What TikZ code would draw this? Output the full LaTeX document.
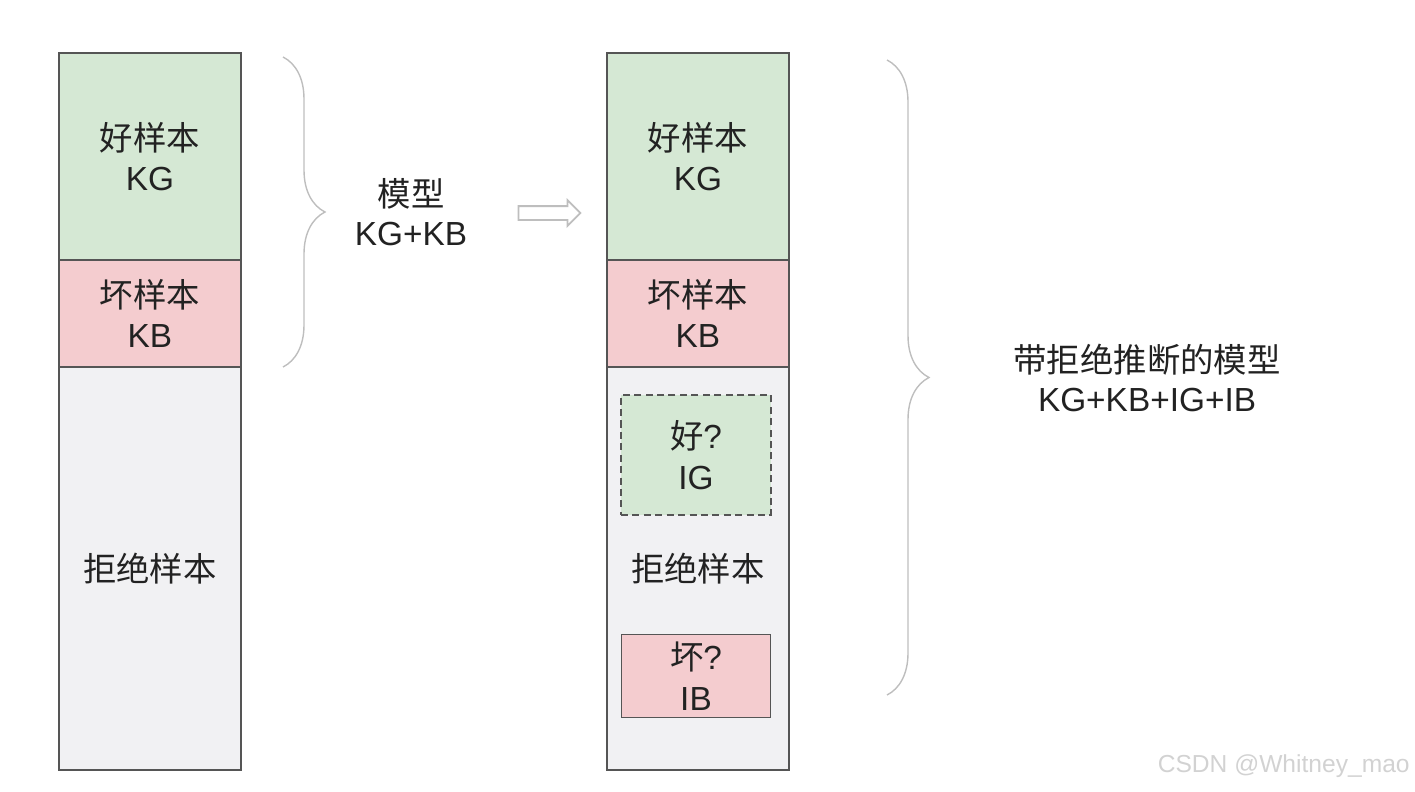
\documentclass[tikz,border=0pt]{standalone}
\usepackage{fontspec}
\setmainfont{Liberation Sans}
\newfontfamily\cjk{Noto Sans CJK SC}
\usetikzlibrary{positioning,decorations.pathreplacing,shapes.arrows}
\definecolor{green100}{HTML}{D5E8D4}
\definecolor{red100}  {HTML}{F4CCCF}
\definecolor{grey050} {HTML}{F1F1F3}
\definecolor{grey700} {HTML}{555555}
\definecolor{grey300} {HTML}{BEBEBE}
\definecolor{grey200} {HTML}{D2D2D2}
\definecolor{ink}     {HTML}{222222}
\tikzset{
  seg/.style   ={draw=grey700, line width=1pt, minimum width=3.64cm,
                 inner sep=0pt, outer sep=0pt, align=center, text=ink,
                 font=\fontsize{19}{23}\selectfont},
  good/.style  ={seg, fill=green100},
  bad/.style   ={seg, fill=red100},
  rej/.style   ={seg, fill=grey050},
  inbox/.style ={draw=grey700, line width=1pt, inner sep=0pt,
                 align=center, text=ink,
                 font=\fontsize{19}{23}\selectfont},
  lbl/.style   ={align=center, text=ink, inner sep=0pt,
                 font=\fontsize{19}{22.5}\selectfont},
  brc/.style   ={draw=grey300, line width=0.8pt,
                 decorate, decoration={brace, amplitude=0.84cm}}
}

\begin{document}
\begin{tikzpicture}[x=0.02cm, y=-0.02cm]
\useasboundingbox (0,0) rectangle (1415,791);

% left column
\node[good, minimum height=4.14cm, anchor=north west] (kg) at (59,53)
  {{\cjk 好样本}\\KG};
\node[bad, minimum height=2.14cm, below=0pt of kg] (kb)
  {{\cjk 坏样本}\\KB};
\node[rej, minimum height=8.06cm, below=0pt of kb] (rj) {\cjk 拒绝样本};

% right column
\node[good, minimum height=4.14cm, anchor=north west] (kg2) at (607,53)
  {{\cjk 好样本}\\KG};
\node[bad, minimum height=2.14cm, below=0pt of kg2] (kb2)
  {{\cjk 坏样本}\\KB};
\node[rej, minimum height=8.06cm, below=0pt of kb2] (rj2) {\cjk 拒绝样本};
\node[inbox, fill=green100, dash pattern=on 4pt off 2.5pt,
      minimum width=3.0cm, minimum height=2.4cm] (ig) at (696,455)
  {{\cjk 好}?\\IG};
\node[inbox, fill=red100, minimum width=2.98cm,
      minimum height=1.66cm] (ib) at (696,676) {{\cjk 坏}?\\IB};

% braces and labels
\coordinate (b1t) at (283,57);
\coordinate (b1b) at (283,367);
\draw[brc] (b1t) -- (b1b);
\node[lbl] (m1) at (411,212) {{\cjk 模型}\\KG+KB};

\node[single arrow, draw=grey300, line width=1pt, fill=white,
      minimum height=1.24cm, inner sep=0.12cm,
      single arrow head extend=0.12cm] (arr) at (546,213) {};

\coordinate (b2t) at (887,60);
\coordinate (b2b) at (887,695);
\draw[brc] (b2t) -- (b2b);
\node[lbl] (m2) at (1147,378) {{\cjk 带拒绝推断的模型}\\KG+KB+IG+IB};

\node[text=grey200, inner sep=0pt, anchor=east,
      font=\fontsize{14}{17}\selectfont]
  (wm) at (1410,766) {CSDN @Whitney\_mao};
\end{tikzpicture}
\end{document}
